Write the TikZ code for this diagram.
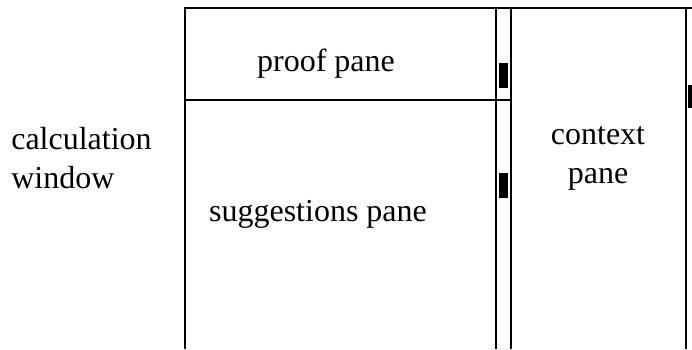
\documentclass[tikz,border=0pt]{standalone}
\usepackage{fontspec}
\setmainfont{Liberation Serif}
\begin{document}
\begin{tikzpicture}[x=0.5pt, y=-0.5pt, line width=1.3pt,
    every node/.style={font=\fontsize{16}{19.5}\selectfont, inner sep=0pt},
    thumb/.style={fill=black}]
            \useasboundingbox (0,0) rectangle (692,349);

            % Labels
            \node (proof) at (326,64) {proof pane};
            \node (sugg) at (318,214) {suggestions pane};
            \node (context) [align=center] at (598,158) {context\\pane};
            \node (calc) [align=left, anchor=west] at (10,158) {calculation\\window};

            % Frame
            \coordinate (tl) at (185,8);
            \coordinate (tr) at (692,8);
            \draw (185,349) -- (tl) -- (tr);
            \draw (185,100) -- (511,100);
            \draw (496,8) -- (496,349);
            \draw (511,8) -- (511,349);
            \draw (686,8) -- (686,349);

            % Scroll thumbs
            \path[thumb] (499,63) rectangle (508,88);
            \path[thumb] (499,173) rectangle (508,198);
            \path[thumb] (688,85) rectangle (692,108);
        \end{tikzpicture}
\end{document}
